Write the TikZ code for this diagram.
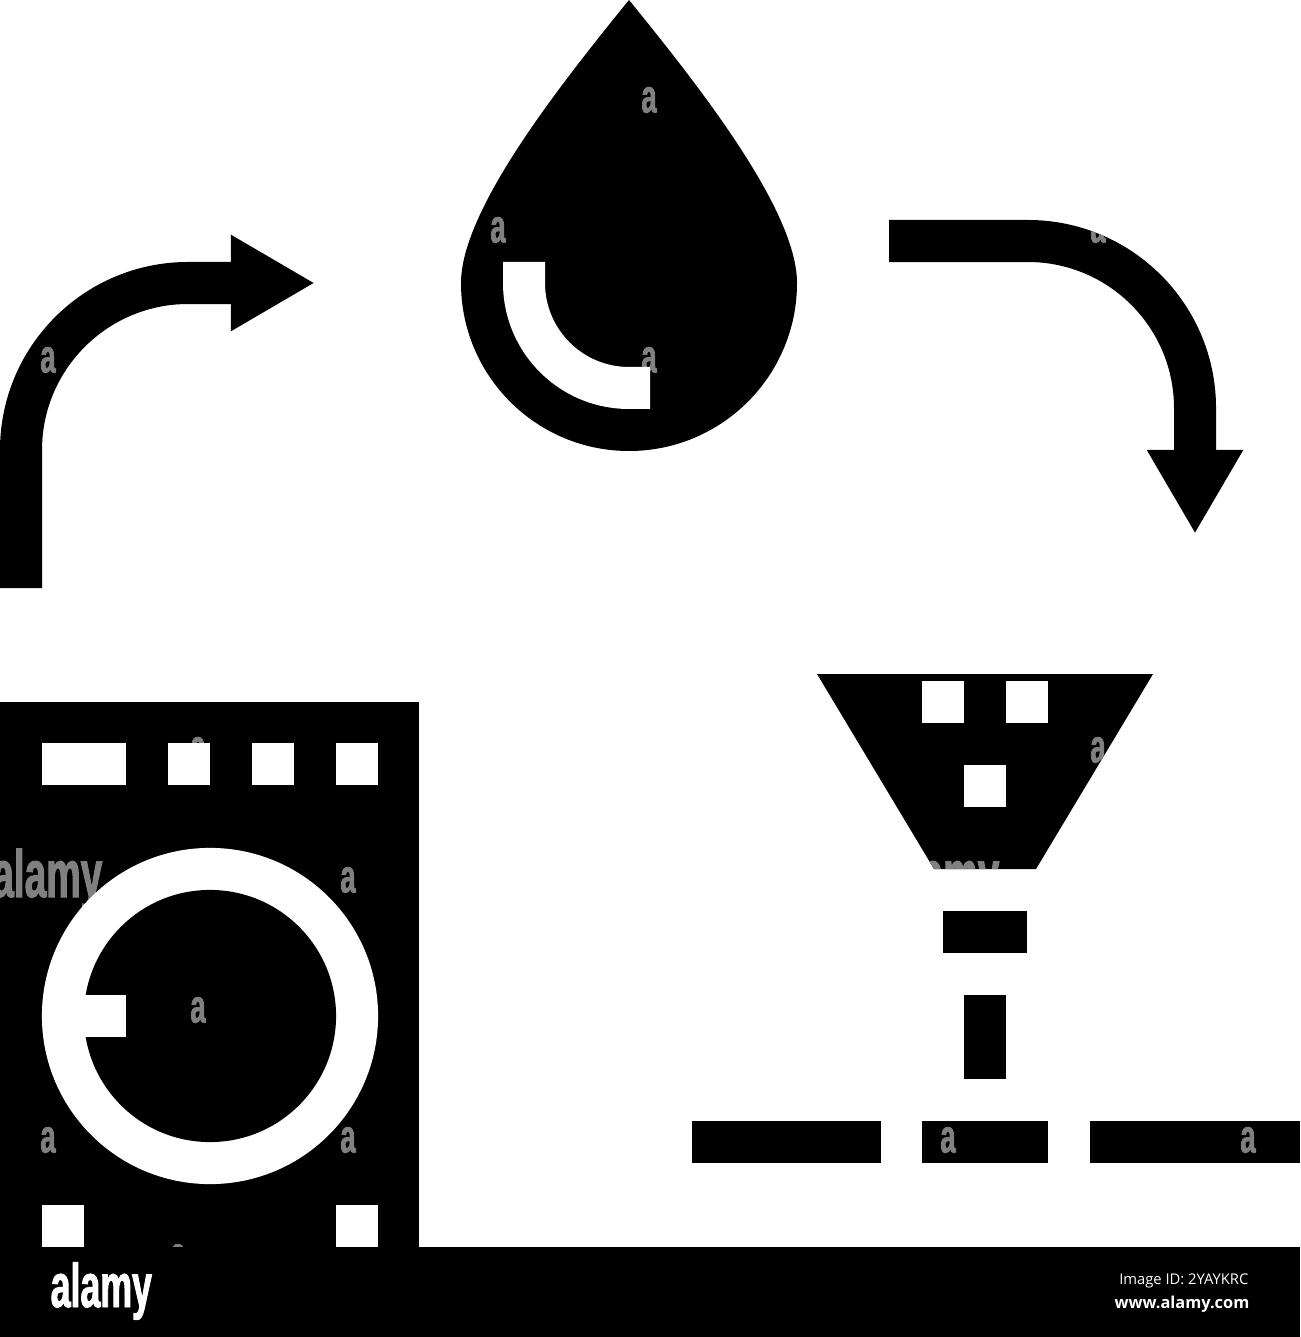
\documentclass[tikz,border=0pt]{standalone}
\usepackage{fontspec}
\usepackage{tikz}
\usetikzlibrary{positioning,arrows.meta}
\newfontfamily\markfont[FakeStretch=0.58,FakeBold=1.5]{Liberation Sans}
\newfontfamily\idfont{Open Sans}

\begin{document}
\begin{tikzpicture}[x=0.01cm, y=-0.01cm,
        blackbox/.style={rectangle, fill=black, inner sep=0pt, outer sep=0pt, minimum width=4.2mm, minimum height=4.2mm},
        whitebox/.style={rectangle, fill=white, inner sep=0pt, outer sep=0pt, minimum width=4.2mm, minimum height=4.2mm},
        flowarrow/.style={draw=black, line width=4.2mm, rounded corners=16.7mm, -{Triangle[width=9mm,length=8.4mm]}},
        wmark/.style={text=gray, inner sep=0pt, font=\markfont\bfseries\fontsize{13.4}{14}\selectfont},
        wmarkbig/.style={text=gray, inner sep=0pt, anchor=base east, font=\markfont\bfseries\fontsize{19}{21}\selectfont}]

        \useasboundingbox (0,0) rectangle (1300,1337);

        % washer
        \node[blackbox, minimum width=41.9mm, minimum height=54.5mm] (washer) at (209.5,974.5) {};
        \node[wmark] (mark6) at (198,750) {a};
        \node[wmark] (mark7) at (348,880) {a};
        \node[wmark] (mark10) at (48,1140) {a};
        \node[wmark] (mark11) at (348,1140) {a};
        \node[wmark] (mark14) at (178,1257) {a};
        \node[wmarkbig] (bigmark1) at (103,897) {alamy};
        \node[whitebox, minimum width=8.4mm] (display) at (84,764) {};
        \node[whitebox] (button1) [right=0.42cm of display] {};
        \node[whitebox] (button2) [right=0.42cm of button1] {};
        \node[whitebox] (button3) [right=0.42cm of button2] {};
        \node[circle, fill=white, inner sep=0pt, minimum size=33.6mm] (door) at (210,1016) {};
        \node[circle, fill=black, inner sep=0pt, minimum size=25.2mm] (drum) at (210,1016) {};
        \node[wmark] (mark8) at (198,1010) {a};
        \node[whitebox, minimum width=4.6mm] (handle) at (103,1016) {};
        \node[whitebox] (foot1) at (63,1226) {};
        \node[whitebox] (foot2) at (357,1226) {};

        % drop
        \fill[black] (629,0) .. controls (560,85) and (461,210) .. (461,283)
                arc[start angle=180, end angle=0, radius=168]
                .. controls (797,210) and (698,85) .. (629,0) -- cycle;
        \node[wmark] (mark1) at (649,100) {a};
        \node[wmark] (mark2) at (498,230) {a};
        \node[wmark] (mark3) at (649,360) {a};
        \fill[white] (503,262) -- (503,283) arc[start angle=180, end angle=90, radius=126]
                -- (650,409) -- (650,367) -- (629,367)
                arc[start angle=90, end angle=180, radius=84] -- (545,262) -- cycle;

        % arrows
        \coordinate (washerout) at (21,588);
        \coordinate (dropin) at (315,283);
        \coordinate (dropout) at (889,241);
        \coordinate (funnelin) at (1195,534);
        \draw[flowarrow] (washerout) |- (dropin);
        \draw[flowarrow] (dropout) -| (funnelin);
        \node[wmark] (mark4) at (48,360) {a};
        \begin{scope}
        \clip (1028,408) circle[radius=188];
        \node[wmark] (mark5) at (1098,230) {a};
        \end{scope}

        % funnel
        \fill[black] (817,674) -- (1153,674) -- (1036,869) -- (934,869) -- cycle;
        \begin{scope}
        \clip (817,674) -- (1153,674) -- (1036,869) -- (934,869) -- cycle;
        \node[wmark] (mark9) at (1098,750) {a};
        \node[wmarkbig] (bigmark2) at (1000,897) {alamy};
        \end{scope}
        \node[whitebox] (grain1) at (943,702) {};
        \node[whitebox] (grain2) [right=0.42cm of grain1] {};
        \node[whitebox] (grain3) at (985,786) {};
        \node[blackbox, minimum width=8.4mm] (stem) at (985,932) {};
        \node[blackbox, minimum height=8.4mm] (drip) [below=0.42cm of stem] {};
        \node[blackbox, minimum width=12.6mm] (pipe) at (985,1142) {};
        \node[blackbox, minimum width=18.9mm] (pipeleft) [left=0.41cm of pipe] {};
        \node[blackbox, minimum width=21mm] (piperight) [right=0.42cm of pipe] {};
        \node[wmark] (mark12) at (948,1140) {a};
        \node[wmark] (mark13) at (1248,1140) {a};

        % strip
        \node[blackbox, minimum width=130mm, minimum height=9mm] (strip) at (650,1292) {};
        \node[text=white, inner sep=0pt, anchor=base west, font=\markfont\bfseries\fontsize{17.5}{20}\selectfont] (logo) at (50,1307) {alamy};
        \node[text=white, inner sep=0pt, anchor=base east, font=\idfont\fontsize{4.2}{5}\selectfont] (imageid) at (1249,1284) {Image ID: 2YAYKRC};
        \node[text=white, inner sep=0pt, anchor=base east, font=\idfont\bfseries\fontsize{4.65}{6}\selectfont] (website) at (1250,1308) {www.alamy.com};

\end{tikzpicture}
\end{document}
